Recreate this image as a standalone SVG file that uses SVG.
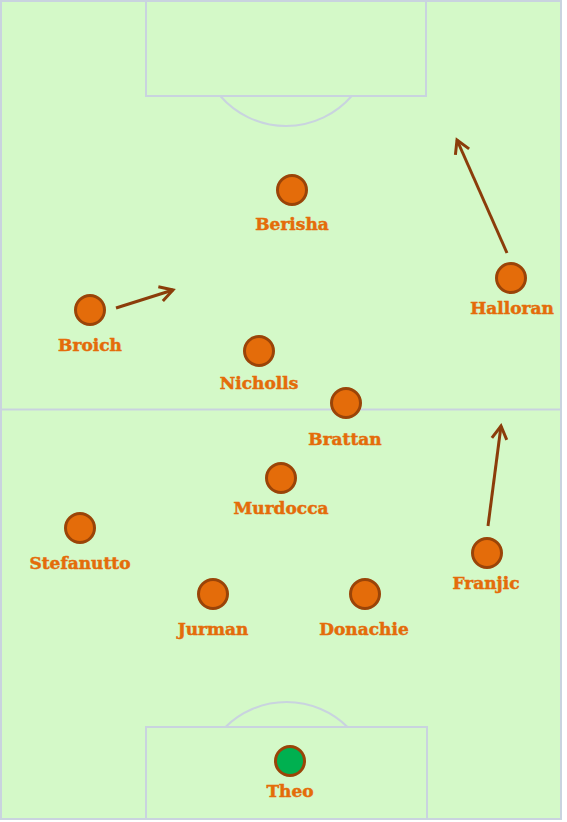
<svg xmlns="http://www.w3.org/2000/svg" width="567" height="822" viewBox="0 0 567 822">
<style>
.line{fill:none;stroke:#c9d3df;stroke-width:2}
.p circle{fill:#e46c0a;stroke:#9a4408;stroke-width:3}
.p.gk circle{fill:#00b050}
.p text{font-family:"DejaVu Serif","Liberation Serif",serif;font-weight:bold;font-size:17px;fill:#e46c0a;stroke:#e46c0a;stroke-width:0.5;text-anchor:middle}
.arrow{stroke:#8b3d0a;stroke-width:3;fill:none;marker-end:url(#ah)}
</style>
<defs>
<marker id="ah" markerUnits="userSpaceOnUse" markerWidth="20" markerHeight="20" viewBox="0 0 20 20" refX="15" refY="10" orient="auto">
<path d="M2,2.5 L15,10 L2,17.5" fill="none" stroke="#8b3d0a" stroke-width="3" stroke-linecap="butt" stroke-linejoin="miter"/>
</marker>
</defs>
<rect x="0" y="0" width="567" height="822" fill="#ffffff"/>
<g id="pitch">
<rect x="1" y="1" width="560" height="818" fill="#d4f9c8"/>
<rect class="line" x="1" y="1" width="560" height="818"/>
<line class="line" x1="1" y1="409.5" x2="561" y2="409.5"/>
<rect class="line" x="146" y="1" width="280" height="95"/>
<path class="line" d="M220.3,96 A87,87 0 0 0 351.7,96"/>
<rect class="line" x="146" y="727" width="281" height="92"/>
<path class="line" d="M225.5,727 A87,87 0 0 1 347.5,727"/>
</g>
<g id="connectors">
<line class="arrow" x1="116" y1="308" x2="173" y2="290"/>
<line class="arrow" x1="507" y1="253" x2="457" y2="140"/>
<line class="arrow" x1="488" y1="526" x2="501" y2="426"/>
</g>
<g id="berisha" class="p"><circle cx="292" cy="190" r="14.5"/><text x="292" y="230">Berisha</text></g>
<g id="halloran" class="p"><circle cx="511" cy="278" r="14.5"/><text x="512" y="314">Halloran</text></g>
<g id="broich" class="p"><circle cx="90" cy="310" r="14.5"/><text x="90" y="351">Broich</text></g>
<g id="nicholls" class="p"><circle cx="259" cy="351" r="14.5"/><text x="259" y="389">Nicholls</text></g>
<g id="brattan" class="p"><circle cx="346" cy="403" r="14.5"/><text x="345" y="445">Brattan</text></g>
<g id="murdocca" class="p"><circle cx="281" cy="478" r="14.5"/><text x="281" y="514">Murdocca</text></g>
<g id="stefanutto" class="p"><circle cx="80" cy="528" r="14.5"/><text x="80" y="569">Stefanutto</text></g>
<g id="franjic" class="p"><circle cx="487" cy="553" r="14.5"/><text x="486" y="589">Franjic</text></g>
<g id="jurman" class="p"><circle cx="213" cy="594" r="14.5"/><text x="213" y="635">Jurman</text></g>
<g id="donachie" class="p"><circle cx="365" cy="594" r="14.5"/><text x="364" y="635">Donachie</text></g>
<g id="theo" class="p gk"><circle cx="290" cy="761" r="14.5"/><text x="290" y="797">Theo</text></g>
</svg>
